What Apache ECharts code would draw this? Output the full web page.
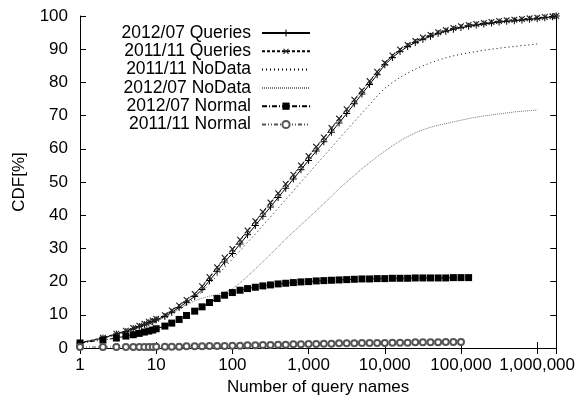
<!DOCTYPE html>
<html>
<head>
<meta charset="utf-8">
<script src="https://cdn.jsdelivr.net/npm/echarts@6/dist/echarts.min.js"></script>
<style>
  html, body { margin: 0; padding: 0; background: #fff; }
  #main { width: 578px; height: 405px; }
</style>
</head>
<body>
<div id="main"></div>
<script>
// x positions (number of query names), 10 per decade past 10
const xs = [1, 2, 3, 4, 5, 6, 7, 8, 9, 10,
  13, 16, 20, 25, 32, 40, 50, 63, 79, 100,
  126, 158, 200, 251, 316, 398, 501, 631, 794, 1000,
  1259, 1585, 1995, 2512, 3162, 3981, 5012, 6310, 7943, 10000,
  12589, 15849, 19953, 25119, 31623, 39811, 50119, 63096, 79433, 100000,
  125893, 158489, 199526, 251189, 316228, 398107, 501187, 630957, 794328, 1000000,
  1258925, 1584893, 1778279];

const queries2012 = [1.5, 3.0, 4.2, 5.0, 5.8, 6.5, 7.0, 7.6, 8.0, 8.5,
  9.5, 10.8, 12.2, 13.8, 15.5, 17.6, 20.3, 23.1, 25.9, 28.5,
  31.3, 34.1, 36.9, 39.7, 42.5, 45.3, 48.1, 50.9, 53.7, 56.5,
  59.3, 62.1, 65.0, 67.8, 70.6, 73.6, 76.5, 79.4, 82.3, 85.3,
  87.5, 89.3, 90.8, 92.0, 93.0, 93.9, 94.7, 95.4, 96.0, 96.5,
  96.9, 97.3, 97.6, 97.9, 98.2, 98.4, 98.6, 98.8, 99.0, 99.2,
  99.5, 99.8, 100];

const queries2011 = [1.6, 3.1, 4.3, 5.2, 6.0, 6.7, 7.3, 7.9, 8.3, 8.8,
  9.9, 11.3, 12.8, 14.5, 16.3, 18.6, 21.4, 24.3, 27.2, 29.8,
  32.6, 35.4, 38.2, 41.0, 43.8, 46.6, 49.4, 52.2, 55.0, 57.8,
  60.6, 63.4, 66.3, 69.1, 71.9, 74.8, 77.6, 80.4, 83.2, 85.9,
  88.1, 89.9, 91.3, 92.5, 93.5, 94.3, 95.1, 95.8, 96.4, 96.9,
  97.3, 97.6, 97.9, 98.2, 98.5, 98.7, 98.9, 99.1, 99.3, 99.5,
  99.7, 99.9, 100];

const noData2011 = [1.5, 2.9, 4.0, 4.8, 5.5, 6.2, 6.8, 7.3, 7.8, 8.2,
  9.2, 10.4, 11.8, 13.3, 15.0, 16.9, 19.3, 21.8, 24.3, 26.8,
  29.3, 31.8, 34.3, 36.9, 39.5, 42.1, 44.7, 47.3, 50.0, 52.6,
  55.2, 57.8, 60.4, 63.0, 65.6, 68.2, 70.8, 73.3, 75.9, 78.2,
  80.0, 81.5, 82.8, 84.0, 85.0, 85.9, 86.7, 87.4, 88.0, 88.5,
  88.9, 89.3, 89.7, 90.0, 90.3, 90.6, 90.8, 91.1, 91.3, 91.6];

const noData2012 = [1.5, 2.9, 4.0, 4.8, 5.5, 6.2, 6.8, 7.3, 7.8, 8.2,
  9.2, 10.4, 11.7, 13.0, 14.2, 15.0, 15.6, 16.1, 16.8, 17.8,
  19.6, 21.6, 23.8, 26.0, 28.2, 30.5, 32.8, 35.0, 37.1, 39.2,
  41.3, 43.5, 45.7, 48.0, 50.0, 52.0, 54.0, 55.8, 57.6, 59.3,
  60.9, 62.4, 63.7, 64.8, 65.7, 66.5, 67.1, 67.6, 68.1, 68.6,
  69.1, 69.5, 69.9, 70.2, 70.5, 70.8, 71.1, 71.3, 71.5, 71.7];

const normal2012 = [1.5, 2.4, 3.0, 3.6, 4.0, 4.4, 4.8, 5.1, 5.4, 5.8,
  6.6, 7.5, 8.6, 9.8, 11.1, 12.4, 13.7, 14.9, 15.9, 16.7,
  17.4, 17.9, 18.3, 18.7, 19.0, 19.3, 19.5, 19.7, 19.9, 20.0,
  20.2, 20.3, 20.4, 20.5, 20.6, 20.7, 20.8, 20.8, 20.9, 20.9,
  21.0, 21.0, 21.0, 21.1, 21.1, 21.1, 21.1, 21.1, 21.2, 21.2,
  21.2];

const normal2011 = [0.3, 0.3, 0.3, 0.3, 0.3, 0.3, 0.3, 0.3, 0.3, 0.4,
  0.4, 0.4, 0.4, 0.5, 0.5, 0.5, 0.6, 0.6, 0.6, 0.7,
  0.7, 0.8, 0.8, 0.9, 0.9, 1.0, 1.0, 1.1, 1.1, 1.2,
  1.2, 1.3, 1.3, 1.4, 1.4, 1.4, 1.5, 1.5, 1.5, 1.5,
  1.6, 1.6, 1.6, 1.7, 1.7, 1.7, 1.7, 1.8, 1.8, 1.8];

const seriesNames = ["2012/07 Queries", "2011/11 Queries", "2011/11 NoData",
  "2012/07 NoData", "2012/07 Normal", "2011/11 Normal"];

const xMax = 1778279;
const plus = "path://M3,0h1v3h3v1h-3v3h-1v-3h-3v-1h3z";

function pairs(ys) {
  return ys.map(function (y, i) { return [xs[i], y]; });
}

function decadeLabel(v) {
  const e = Math.log10(v);
  if (Math.abs(e - Math.round(e)) > 1e-6) return "";
  return Math.round(v).toLocaleString("en-US");
}

// NoData rows have no marker in the key
const legendData = seriesNames.map(function (n) {
  if (n.indexOf("NoData") >= 0) {
    return { name: n, itemStyle: { color: "rgba(0,0,0,0)", borderColor: "rgba(0,0,0,0)", borderWidth: 0 } };
  }
  return { name: n };
});

const font = "Liberation Sans";
const chart = echarts.init(document.getElementById("main"));
chart.setOption({
  animation: false,
  backgroundColor: "#fff",
  textStyle: { fontFamily: font, color: "#000" },
  grid: { left: 80, right: 21, top: 16, bottom: 57 },
  legend: {
    orient: "vertical",
    align: "right",
    right: 267,
    top: 24,
    padding: 0,
    itemGap: 0.3,
    itemWidth: 48,
    itemHeight: 9,
    textStyle: { fontFamily: font, fontSize: 17.5, lineHeight: 17, color: "#000", padding: [0, 6, 0, 0] },
    data: legendData
  },
  xAxis: [
    {
      type: "log", logBase: 10, min: 1, max: xMax,
      name: "Number of query names", nameLocation: "middle", nameGap: 31,
      nameTextStyle: { fontFamily: font, fontSize: 17, color: "#000" },
      axisLine: { lineStyle: { color: "#000", width: 1 } },
      axisTick: { inside: true, length: 6, lineStyle: { color: "#000" } },
      minorTick: { show: false },
      splitLine: { show: false },
      axisLabel: { fontFamily: font, fontSize: 17, color: "#000", margin: 9,
        formatter: decadeLabel, showMaxLabel: false }
    },
    {
      type: "log", logBase: 10, min: 1, max: xMax, position: "top",
      axisLine: { lineStyle: { color: "#000", width: 1 } },
      axisTick: { inside: true, length: 6, lineStyle: { color: "#000" } },
      splitLine: { show: false },
      axisLabel: { show: false }
    }
  ],
  yAxis: [
    {
      type: "value", min: 0, max: 100, interval: 10,
      name: "CDF[%]", nameLocation: "middle", nameGap: 52,
      nameTextStyle: { fontFamily: font, fontSize: 17, color: "#000" },
      axisLine: { show: true, lineStyle: { color: "#000", width: 1 } },
      axisTick: { show: true, inside: true, length: 6, lineStyle: { color: "#000" } },
      splitLine: { show: false },
      axisLabel: { fontFamily: font, fontSize: 17, color: "#000", margin: 12 }
    },
    {
      type: "value", min: 0, max: 100, interval: 10, position: "right",
      axisLine: { show: true, lineStyle: { color: "#000", width: 1 } },
      axisTick: { show: true, inside: true, length: 6, lineStyle: { color: "#000" } },
      splitLine: { show: false },
      axisLabel: { show: false }
    }
  ],
  series: [
    {
      name: seriesNames[0], type: "line", data: pairs(queries2012),
      symbol: plus, symbolSize: 7,
      itemStyle: { color: "#000" },
      lineStyle: { color: "#000", width: 1 }
    },
    {
      name: seriesNames[1], type: "line", data: pairs(queries2011),
      symbol: plus, symbolSize: 8, symbolRotate: 45,
      itemStyle: { color: "#222" },
      lineStyle: { color: "#000", width: 1, type: [3, 2] }
    },
    {
      name: seriesNames[2], type: "line", data: pairs(noData2011),
      symbol: "none",
      itemStyle: { color: "#000" },
      lineStyle: { color: "#000", width: 1, type: [1, 3] }
    },
    {
      name: seriesNames[3], type: "line", data: pairs(noData2012),
      symbol: "none",
      itemStyle: { color: "#777" },
      lineStyle: { color: "#777", width: 1, type: [1, 1] }
    },
    {
      name: seriesNames[4], type: "line", data: pairs(normal2012),
      symbol: "rect", symbolSize: 7,
      itemStyle: { color: "#000" },
      lineStyle: { color: "#000", width: 1, type: [5, 2, 1, 2] }
    },
    {
      name: seriesNames[5], type: "line", data: pairs(normal2011),
      symbol: "emptyCircle", symbolSize: 6,
      itemStyle: { color: "#555", borderWidth: 1 },
      lineStyle: { color: "#555", width: 1, type: [4, 2, 1, 2, 1, 2] }
    }
  ]
});
</script>
</body>
</html>
